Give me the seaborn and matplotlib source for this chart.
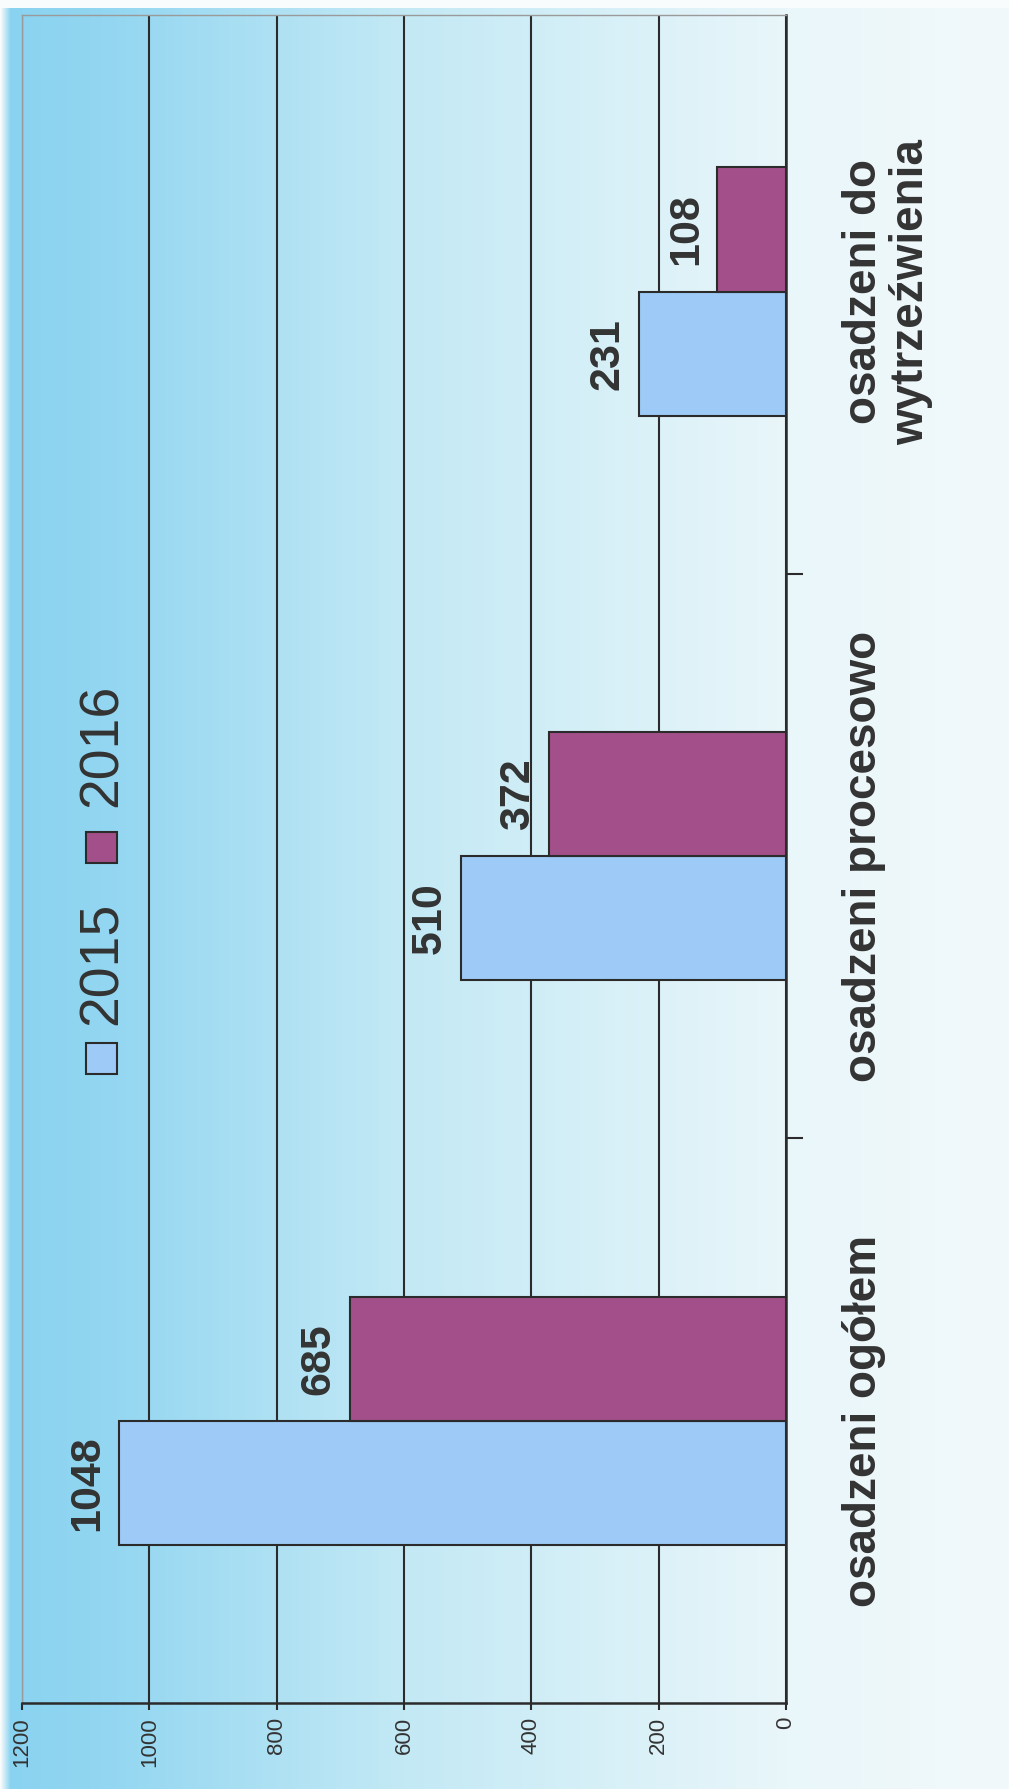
import numpy as np
import pandas as pd
import matplotlib.pyplot as plt
import seaborn as sns
from matplotlib.patches import Rectangle

categories = ["osadzeni ogółem", "osadzeni procesowo", "osadzeni do\nwytrzeźwienia"]
years = ["2015", "2016"]
values_2015 = [1048, 510, 231]
values_2016 = [685, 372, 108]
value_ticks = [0, 200, 400, 600, 800, 1000, 1200]

colors = {"2015": "#9dcaf6", "2016": "#a3508a"}
text_col = "#333333"
line_col = "#2b2b2b"

df = pd.DataFrame({
    "kategoria": categories * 2,
    "rok": ["2015"] * len(categories) + ["2016"] * len(categories),
    "liczba": values_2015 + values_2016,
})

sns.set_style("white")
plt.rcParams["font.family"] = ["Liberation Sans", "DejaVu Sans"]

W, H = 1009, 1789
fig = plt.figure(figsize=(W / 100, H / 100), dpi=100)

# background: cyan on the left fading to almost white on the right
bg = fig.add_axes([0, 0, 1, 1], zorder=0)
stops = [0.0, 0.01, 0.1, 0.4, 0.78, 1.0]
stop_cols = np.array([[250, 252, 252], [138, 211, 240], [146, 214, 241],
                      [195, 233, 245], [233, 246, 250], [242, 249, 251]]) / 255
xs = np.linspace(0, 1, W)
row = np.stack([np.interp(xs, stops, stop_cols[:, c]) for c in range(3)], axis=-1)
img = np.repeat(row[None, :, :], H, axis=0)
img[:8, :, :] = [0.98, 0.99, 0.99]
bg.imshow(img, aspect="auto", extent=[0, 1, 0, 1])
bg.axis("off")

# plot area in pixel terms of the reference
left, right, top, bottom = 22, 786, 15, 1703
ax = fig.add_axes([left / W, 1 - bottom / H, (right - left) / W, (bottom - top) / H], zorder=1)
ax.patch.set_alpha(0)

sns.barplot(data=df, y="kategoria", x="liczba", hue="rok", orient="h",
            palette=colors, hue_order=years, width=0.44, saturation=1,
            edgecolor=line_col, linewidth=1.5, legend=False, ax=ax)

ax.set_xlim(1200, 0)
ax.set_ylim(-0.5, 2.49)
ax.set_xlabel("")
ax.set_ylabel("")

# value axis
ax.set_xticks(value_ticks)
ax.set_xticklabels([str(v) for v in value_ticks], rotation=90, fontsize=16, color=text_col)
ax.tick_params(axis="x", length=5, width=1.5, color=line_col, pad=5, bottom=True)
ax.xaxis.grid(True, color=line_col, linewidth=1.5)
ax.yaxis.grid(False)
ax.set_axisbelow(True)

# category axis on the right side
ax.yaxis.tick_right()
ax.set_yticks([0.5, 1.5], labels=["", ""])
ax.tick_params(axis="y", which="major", length=12, width=1.5, color=line_col, direction="out")
ax.set_yticks([0, 1, 2], labels=categories, minor=True)
ax.tick_params(axis="y", which="minor", length=0, pad=40, labelsize=33, labelcolor=text_col)
for lbl in ax.get_yticklabels(minor=True):
    lbl.set_rotation(90)
    lbl.set_ha("left")
    lbl.set_va("center")
    lbl.set_multialignment("center")
    lbl.set_fontweight("bold")
    lbl.set_linespacing(1.1)

for side in ["right", "bottom"]:
    ax.spines[side].set_color(line_col)
    ax.spines[side].set_linewidth(1.8)
for side in ["left", "top"]:
    ax.spines[side].set_color("#9a9a9a")
    ax.spines[side].set_linewidth(1.0)

# value labels at the end of each bar
for cont in ax.containers:
    for bar in cont:
        w = bar.get_width()
        yc = bar.get_y() + bar.get_height() / 2
        ax.annotate(f"{w:.0f}", xy=(w, yc), xytext=(-8, 0), textcoords="offset points",
                    rotation=90, ha="right", va="center", fontsize=31,
                    fontweight="bold", color=text_col)

# rotated legend drawn by hand
legend_pos = {"2015": (101, 1058, 1025), "2016": (101, 847, 807)}
sq = 31
for yr in years:
    cx, cy, ty = legend_pos[yr]
    fig.add_artist(Rectangle(((cx - sq / 2) / W, 1 - (cy + sq / 2) / H), sq / W, sq / H,
                             transform=fig.transFigure, facecolor=colors[yr],
                             edgecolor=line_col, linewidth=1.5, zorder=3))
    fig.text((cx + 2) / W, 1 - ty / H, yr, rotation=90, ha="center", va="bottom",
             fontsize=40, color=text_col, zorder=3)

plt.savefig("out.png", dpi=100)
plt.close()
